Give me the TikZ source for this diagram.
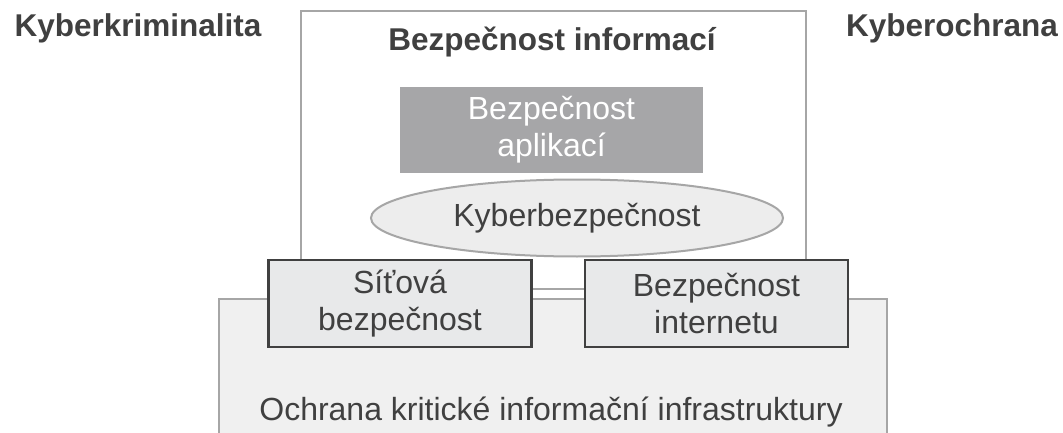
\documentclass[tikz,border=0pt]{standalone}
\usepackage{fontspec}
\setmainfont{Liberation Sans}
\usetikzlibrary{shapes.geometric,positioning}

\definecolor{textgray}{HTML}{404040}
\definecolor{linegray}{HTML}{A6A6A6}
\definecolor{appgray}{HTML}{A6A6A8}
\definecolor{boxgray}{HTML}{E8E9EA}
\definecolor{basegray}{HTML}{F0F0F0}
\definecolor{ovalgray}{HTML}{EDEDED}

\begin{document}
\begin{tikzpicture}[x=1pt, y=-1pt, text=textgray, font=\fontsize{32}{37}\selectfont,
    layer/.style={draw=linegray, line width=2pt, inner sep=0pt, anchor=north west},
    area/.style={draw=textgray, line width=2.5pt, fill=boxgray, align=center, minimum width=263pt, minimum height=87pt, inner sep=0pt},
    heading/.style={font=\fontsize{31.5}{38}\selectfont\bfseries}]
    \useasboundingbox (0,0) rectangle (1063,433);
    \clip (0,0) rectangle (1063,433);

    % the two big layers
    \node (kii) [layer, fill=basegray, minimum width=668pt, minimum height=160pt] at (218,298) {};
    \node (info) [layer, fill=white, minimum width=505pt, minimum height=278pt] at (300,10) {};
    \node (kiitext) at (551,412) {Ochrana kritické informační infrastruktury};
    \node (infotitle) [heading] at (552,42) {Bezpečnost informací};

    % inside the information layer
    \node (apps) [fill=appgray, text=white, align=center, inner sep=0pt, minimum width=303pt, minimum height=86pt] at (551.5,130) {Bezpečnost\\aplikací};
    \node (cyber) [ellipse, draw=linegray, line width=2pt, fill=ovalgray, inner sep=0pt, minimum width=412pt, minimum height=77pt] at (577,218) {Kyberbezpečnost};

    % boxes across both layers
    \node (net) [area] at (400,303.5) {Síťová\\bezpečnost};
    \node (web) [area, right=51pt of net] {Bezpečnost\\internetu};

    \node (crime) [heading] at (138,28) {Kyberkriminalita};
    \node (defence) [heading] at (952,28) {Kyberochrana};
\end{tikzpicture}
\end{document}
